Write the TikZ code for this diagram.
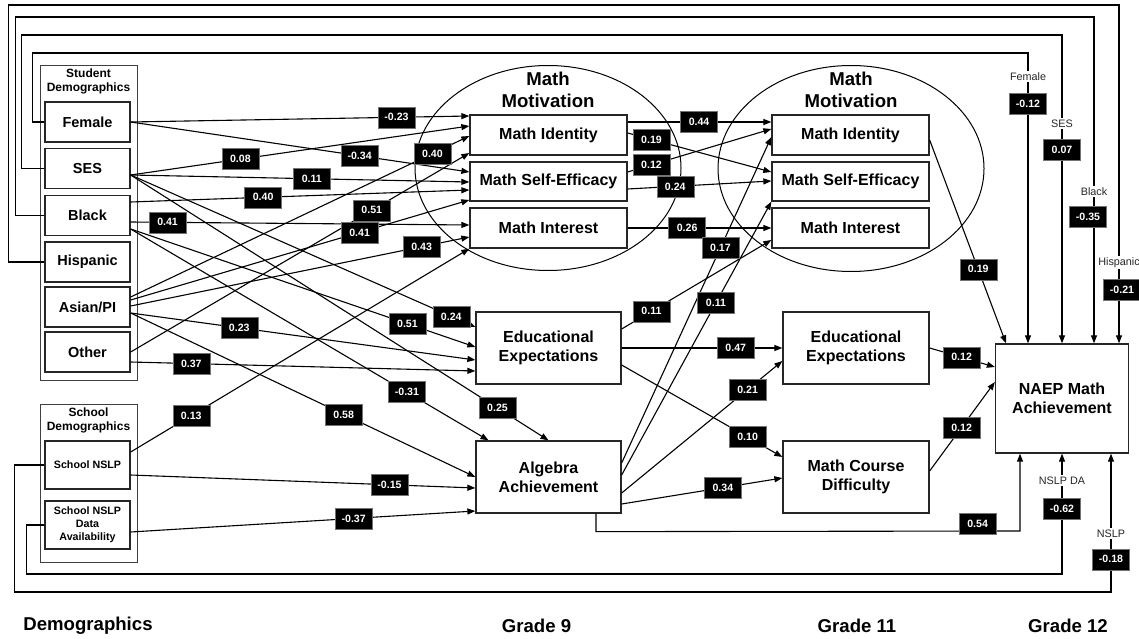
\documentclass[tikz,border=0pt]{standalone}
\usepackage{fontspec}
\setmainfont{Liberation Sans}
\usetikzlibrary{arrows.meta,calc,shapes.geometric}
\begin{document}
\begin{tikzpicture}[x=1pt,y=-1pt,
  box/.style={draw=black!85, line width=1.3pt, fill=white, inner sep=0pt, align=center, font=\fontsize{16}{19}\selectfont\bfseries},
  dbox/.style={draw=black!85, line width=1.3pt, fill=white, inner sep=0pt, align=center, minimum width=85pt, minimum height=40pt, font=\fontsize{14.5}{17}\selectfont\bfseries},
  sbox/.style={draw=black!85, line width=1.3pt, fill=white, inner sep=0pt, align=center, minimum width=85pt, minimum height=48pt, font=\fontsize{10.7}{13}\selectfont\bfseries},
  grp/.style={draw=black!75, line width=0.9pt, inner sep=0pt},
  gtitle/.style={font=\fontsize{12}{14}\selectfont\bfseries, align=center},
  mtitle/.style={font=\fontsize{18.6}{22}\selectfont\bfseries, align=center},
  btitle/.style={font=\fontsize{18.6}{22}\selectfont\bfseries},
  ell/.style={ellipse, draw=black, line width=1pt, inner sep=0pt},
  arr/.style={draw=black, line width=1.1pt, -{Triangle[length=8pt,width=6pt]}},
  val/.style={fill=black, draw=black!55, line width=0.4pt, text=white, font=\fontsize{10.6}{12}\selectfont\bfseries, minimum width=37pt, minimum height=21pt, inner sep=0pt},
  lbl/.style={fill=white, text=black!85, font=\fontsize{10.8}{12}\selectfont, inner sep=1.5pt},
]
\useasboundingbox (0,0) rectangle (1139,639);

% ellipses and group boxes
\node[ell, minimum width=266pt, minimum height=205pt] (g9) at (548,168) {};
\node[mtitle] (g9t) at (548,90) {Math\\Motivation};
\node[ell, minimum width=266pt, minimum height=206pt] (g11) at (851,168.5) {};
\node[mtitle] (g11t) at (851,90) {Math\\Motivation};

\node[grp, minimum width=97pt, minimum height=315pt] (sgrp) at (88.5,222.5) {};
\node[gtitle] (sgtitle) at (88.5,81) {Student\\Demographics};
\node[grp, minimum width=97pt, minimum height=158pt] (hgrp) at (88.5,483) {};
\node[gtitle] (hgtitle) at (88.5,420.5) {School\\Demographics};

% demographics
\node[dbox] (fem) at (87.5,122) {Female};
\node[dbox] (ses) at (87.5,168.5) {SES};
\node[dbox] (blk) at (87.5,215.5) {Black};
\node[dbox] (his) at (87.5,262) {Hispanic};
\node[dbox] (asn) at (87.5,307) {Asian/PI};
\node[dbox] (oth) at (87.5,352) {Other};
\node[sbox] (nslp) at (87.5,465) {School NSLP};
\node[sbox] (nda) at (87.5,525) {School NSLP\\Data\\Availability};

% grade 9
\node[box, minimum width=157pt, minimum height=40pt] (mi9) at (548.5,135) {Math Identity};
\node[box, minimum width=157pt, minimum height=39pt] (mse9) at (548.5,181.5) {Math Self-Efficacy};
\node[box, minimum width=157pt, minimum height=40pt] (mint9) at (548.5,228) {Math Interest};
\node[box, minimum width=145pt, minimum height=72pt] (ee9) at (548.5,348) {Educational\\Expectations};
\node[box, minimum width=145pt, minimum height=72pt] (alg) at (548.5,477) {Algebra\\Achievement};

% grade 11
\node[box, minimum width=157pt, minimum height=40pt] (mi11) at (850.5,135) {Math Identity};
\node[box, minimum width=157pt, minimum height=39pt] (mse11) at (850.5,181.5) {Math Self-Efficacy};
\node[box, minimum width=157pt, minimum height=40pt] (mint11) at (850.5,228) {Math Interest};
\node[box, minimum width=146pt, minimum height=72pt] (ee11) at (856,348) {Educational\\Expectations};
\node[box, minimum width=146pt, minimum height=72pt] (mcd) at (856,477) {Math Course\\Difficulty};

% grade 12
\node[box, minimum width=133pt, minimum height=109pt] (naep) at (1062,398.5) {NAEP Math\\Achievement};

% demographics -> grade 9
\draw[arr] (fem.east) -- coordinate[pos=.785] (v01) ($(mi9.west)+(0,-19)$);
\draw[arr] (fem.east) -- coordinate[pos=.676] (v02) ($(mse9.west)+(0,-9.5)$);
\draw[arr] ($(ses.east)+(0,6.5)$) -- coordinate[pos=.324] (v03) ($(mi9.west)+(0,-9)$);
\draw[arr] ($(ses.east)+(0,6.5)$) -- coordinate[pos=.535] (v04) ($(mse9.west)+(0,0.5)$);
\draw[arr] ($(ses.east)+(0,6.5)$) -- coordinate[pos=.93] (v05) ($(ee9.west)+(0,-21)$);
\draw[arr] ($(ses.east)+(0,6.5)$) -- coordinate[pos=.878] (v06) (alg.north);
\draw[arr] ($(blk.east)+(0,-13.5)$) -- coordinate[pos=.391] (v07) ($(mse9.west)+(0,8.5)$);
\draw[arr] ($(blk.east)+(0,6.5)$) -- coordinate[pos=.109] (v08) ($(mint9.west)+(0,-3)$);
\draw[arr] ($(blk.east)+(0,13.5)$) -- coordinate[pos=.803] (v09) ($(ee9.west)+(0,-1)$);
\draw[arr] ($(blk.east)+(0,13.5)$) -- coordinate[pos=.772] (v10) ($(alg.north)+(-60,0)$);
\draw[arr] ($(asn.east)+(0,-10)$) -- coordinate[pos=.891] (v11) ($(mi9.west)+(0,1)$);
\draw[arr] ($(asn.east)+(0,-7)$) -- coordinate[pos=.676] (v12) ($(mse9.west)+(0,18.5)$);
\draw[arr] ($(asn.east)+(0,-1)$) -- coordinate[pos=.859] (v13) ($(mint9.west)+(0,9)$);
\draw[arr] ($(asn.east)+(0,6)$) -- coordinate[pos=.315] (v14) ($(ee9.west)+(0,12)$);
\draw[arr] ($(asn.east)+(0,6)$) -- coordinate[pos=.618] (v15) (alg.west);
\draw[arr] (oth.east) -- coordinate[pos=.712] (v16) ($(mi9.west)+(0,18)$);
\draw[arr] ($(oth.east)+(0,10)$) -- coordinate[pos=.176] (v17) ($(ee9.west)+(0,23)$);
\draw[arr] ($(nslp.east)+(0,-13)$) -- coordinate[pos=.179] (v18) (mint9.south west);
\draw[arr] ($(nslp.east)+(0,10)$) -- coordinate[pos=.751] (v19) ($(alg.west)+(0,11)$);
\draw[arr] ($(nda.east)+(0,7)$) -- coordinate[pos=.647] (v20) ($(alg.west)+(0,34)$);

% grade 9 -> grade 11
\draw[arr] ($(mi9.east)+(0,-13)$) -- coordinate[pos=.497] (v21) ($(mi11.west)+(0,-13)$);
\draw[arr] ($(mi9.east)+(0,-2)$) -- coordinate[pos=.166] (v22) ($(mse11.west)+(0,-9.5)$);
\draw[arr] ($(mse9.east)+(0,-9.5)$) -- coordinate[pos=.166] (v23) ($(mi11.west)+(0,-6)$);
\draw[arr] ($(mse9.east)+(0,7.5)$) -- coordinate[pos=.331] (v24) ($(mse11.west)+(0,-0.5)$);
\draw[arr] (mint9.east) -- coordinate[pos=.414] (v25) (mint11.west);
\draw[arr] ($(ee9.east)+(0,-19)$) -- coordinate[pos=.199] (v26) ($(mint11.west)+(0,12)$);
\draw[arr] ($(alg.east)+(0,-14)$) -- coordinate[pos=.66] (v27) ($(mi11.west)+(0,2)$);
\draw[arr] ($(alg.east)+(0,-2)$) -- coordinate[pos=.63] (v28) (mse11.south west);
\draw[arr] ($(alg.east)+(0,16)$) -- coordinate[pos=.784] (v29) ($(ee11.west)+(0,13)$);
\draw[arr] ($(alg.east)+(0,27)$) -- coordinate[pos=.63] (v30) ($(mcd.west)+(0,1)$);
\draw[arr] (ee9.east) -- coordinate[pos=.71] (v31) (ee11.west);
\draw[arr] ($(ee9.east)+(0,17)$) -- coordinate[pos=.784] (v32) ($(mcd.west)+(0,-20)$);

% grade 11 -> grade 12
\draw[arr] (ee11.east) -- coordinate[pos=.49] (v33) ($(naep.west)+(0,-31.5)$);
\draw[arr] ($(mcd.east)+(0,-6)$) -- coordinate[pos=.49] (v34) ($(naep.west)+(0,-16.5)$);
\draw[arr] ($(mi11.east)+(0,5)$) -- coordinate[pos=.636] (v35) ($(naep.north)+(-56,0)$);

% direct effects on NAEP
\draw[arr] (fem.west) -- ++(-12,0) |- (1028,53) -- coordinate[pos=.0825] (fL) coordinate[pos=.175] (fV) ([xshift=-34pt]naep.north);
\draw[arr] (ses.west) -- ++(-23,0) |- (1062,35) -- coordinate[pos=.288] (sL) coordinate[pos=.372] (sV) (naep.north);
\draw[arr] (blk.west) -- ++(-29,0) |- (1094,17) -- coordinate[pos=.535] (bL) coordinate[pos=.612] (bV) ([xshift=32pt]naep.north);
\draw[arr] (his.west) -- ++(-36,0) |- (1119,5) -- coordinate[pos=.761] (hL) coordinate[pos=.841] (hV) ([xshift=57pt]naep.north);
\draw[arr] (nslp.west) -- ++(-30,0) |- (1111,592) -- coordinate[pos=.424] (nL) coordinate[pos=.237] (nV) ([xshift=49pt]naep.south);
\draw[arr] (nda.west) -- ++(-18,0) |- (1062,574) -- coordinate[pos=.777] (dL) coordinate[pos=.545] (dV) (naep.south);
\draw[arr] ([xshift=47.5pt]alg.south) -- ++(0,18) -- coordinate[pos=.9] (aV) (1020,531) -- ([xshift=-42pt]naep.south);

% coefficient labels
\node[val] (l01) at (v01) {-0.23};
\node[val] (l02) at (v02) {-0.34};
\node[val] (l03) at (v03) {0.08};
\node[val] (l04) at (v04) {0.11};
\node[val] (l05) at (v05) {0.24};
\node[val] (l06) at (v06) {0.25};
\node[val] (l07) at (v07) {0.40};
\node[val] (l08) at (v08) {0.41};
\node[val] (l09) at (v09) {0.51};
\node[val] (l10) at (v10) {-0.31};
\node[val] (l11) at (v11) {0.40};
\node[val] (l12) at (v12) {0.41};
\node[val] (l13) at (v13) {0.43};
\node[val] (l14) at (v14) {0.23};
\node[val] (l15) at (v15) {0.58};
\node[val] (l16) at (v16) {0.51};
\node[val] (l17) at (v17) {0.37};
\node[val] (l18) at (v18) {0.13};
\node[val] (l19) at (v19) {-0.15};
\node[val] (l20) at (v20) {-0.37};
\node[val] (l21) at (v21) {0.44};
\node[val] (l22) at (v22) {0.19};
\node[val] (l23) at (v23) {0.12};
\node[val] (l24) at (v24) {0.24};
\node[val] (l25) at (v25) {0.26};
\node[val] (l26) at (v26) {0.11};
\node[val] (l27) at (v27) {0.17};
\node[val] (l28) at (v28) {0.11};
\node[val] (l29) at (v29) {0.21};
\node[val] (l30) at (v30) {0.34};
\node[val] (l31) at (v31) {0.47};
\node[val] (l32) at (v32) {0.10};
\node[val] (l33) at (v33) {0.12};
\node[val] (l34) at (v34) {0.12};
\node[val] (l35) at (v35) {0.19};

\node[lbl] (lf) at (fL) {Female};
\node[val] (lfv) at (fV) {-0.12};
\node[lbl] (ls) at (sL) {SES};
\node[val] (lsv) at (sV) {0.07};
\node[lbl] (lb) at (bL) {Black};
\node[val, xshift=-6pt] (lbv) at (bV) {-0.35};
\node[lbl] (lh) at (hL) {Hispanic};
\node[val, xshift=3pt] (lhv) at (hV) {-0.21};
\node[lbl] (ln) at (nL) {NSLP};
\node[val] (lnv) at (nV) {-0.18};
\node[lbl] (ld) at (dL) {NSLP DA};
\node[val] (ldv) at (dV) {-0.62};
\node[val, yshift=7pt] (la) at (aV) {0.54};

% column titles
\node[btitle] (t0) at (88,626) {Demographics};
\node[btitle] (t1) at (536.5,626) {Grade 9};
\node[btitle] (t2) at (857,626) {Grade 11};
\node[btitle] (t3) at (1068,626) {Grade 12};
\end{tikzpicture}
\end{document}
